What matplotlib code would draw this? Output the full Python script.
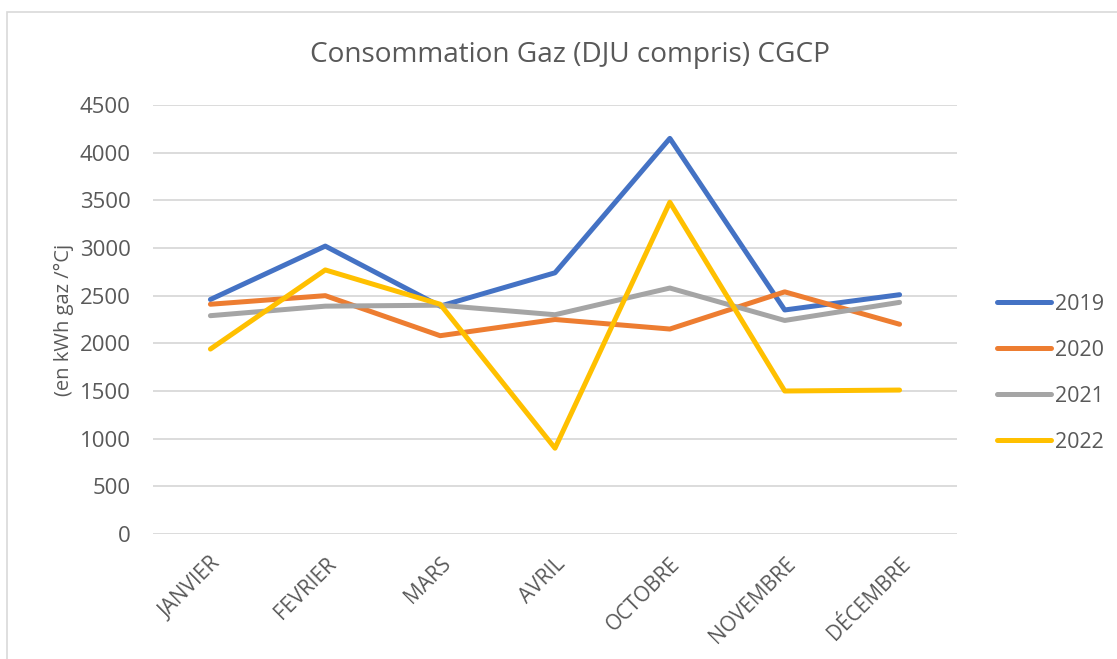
import matplotlib.pyplot as plt
from matplotlib.patches import Rectangle

plt.rcParams['font.family'] = ['Open Sans', 'DejaVu Sans']

mois = ['JANVIER', 'FEVRIER', 'MARS', 'AVRIL', 'OCTOBRE', 'NOVEMBRE', 'DÉCEMBRE']
annees = ['2019', '2020', '2021', '2022']
conso_2019 = [2460, 3020, 2390, 2740, 4150, 2350, 2510]
conso_2020 = [2410, 2500, 2080, 2250, 2150, 2540, 2200]
conso_2021 = [2290, 2390, 2400, 2300, 2580, 2240, 2430]
conso_2022 = [1940, 2770, 2410, 900, 3480, 1500, 1510]
couleurs = ['#4472C4', '#ED7D31', '#A5A5A5', '#FFC000']
yticks = list(range(0, 4501, 500))

W, H = 1117, 659
fig = plt.figure(figsize=(W / 100, H / 100), dpi=100)
ax = fig.add_axes([153 / W, 1 - 534 / H, (957 - 153) / W, (534 - 105) / H])

# cadre gris du graphique
fig.patches.append(Rectangle((7 / W, -0.1), 2, (H - 12) / H + 0.1,
                             transform=fig.transFigure, fill=False,
                             edgecolor='#d9d9d9', lw=1.2))

x = range(len(mois))
for serie, nom, c in zip([conso_2019, conso_2020, conso_2021, conso_2022], annees, couleurs):
    ax.plot(x, serie, color=c, lw=3.6, label=nom, solid_capstyle='round', solid_joinstyle='round')

ax.set_xlim(-0.5, len(mois) - 0.5)
ax.set_ylim(0, 4500)
ax.set_yticks(yticks)
ax.set_xticks(list(x))
ax.set_xticklabels(mois, rotation=45, ha='right', rotation_mode='anchor')
ax.grid(axis='y', color='#d9d9d9', lw=1.3)
ax.set_axisbelow(True)
for s in ax.spines.values():
    s.set_visible(False)
ax.tick_params(length=0, labelsize=16, colors='#595959')
ax.tick_params(axis='x', labelsize=15, pad=14)
ax.tick_params(axis='y', pad=16)

ax.set_ylabel('(en kWh gaz /°Cj', fontsize=14.5, color='#595959', labelpad=4)
fig.text(570 / W, 1 - 55 / H, 'Consommation Gaz (DJU compris) CGCP',
         ha='center', va='center', fontsize=20.2, color='#595959')

leg = ax.legend(loc='center left', bbox_to_anchor=(1.026, 0.375), frameon=False,
                fontsize=15.5, handlelength=2.5, handletextpad=0.2, labelspacing=1.16)
for t in leg.get_texts():
    t.set_color('#595959')

fig.savefig('out.png', dpi=100)
